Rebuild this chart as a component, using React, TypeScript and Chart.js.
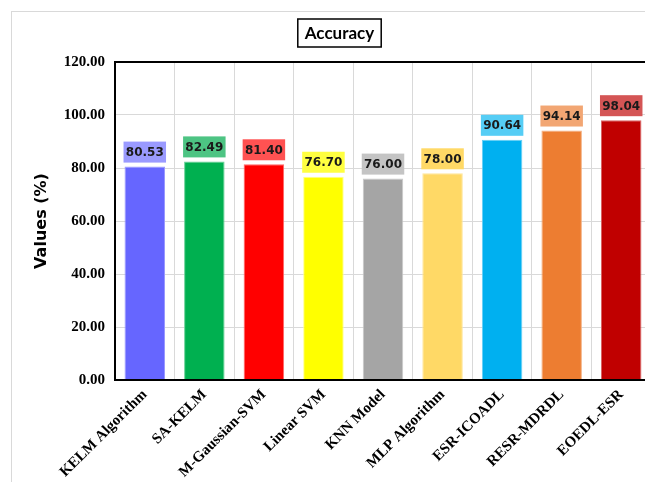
import { useEffect, useRef } from 'react';
import { Chart, registerables } from 'chart.js';
Chart.register(...registerables);

const categories = [
  'KELM Algorithm',
  'SA-KELM',
  'M-Gaussian-SVM',
  'Linear SVM',
  'KNN Model',
  'MLP Algorithm',
  'ESR-ICOADL',
  'RESR-MDRDL',
  'EOEDL-ESR',
];
const values = [80.53, 82.49, 81.4, 76.7, 76.0, 78.0, 90.64, 94.14, 98.04];
const barColors = ['#6666FF', '#00B050', '#FF0000', '#FFFF00', '#A5A5A5', '#FFD966', '#00B0F0', '#ED7D31', '#C00000'];
const labelColors = ['#9A9AFF', '#4DC483', '#FF5252', '#FFFF40', '#C4C4C4', '#FFD966', '#55CDF5', '#F2A673', '#D45555'];
const edgeColors = ['#9A9AFF', '#66D096', '#FF6666', '#FFFF88', '#C8C8C8', '#FFE699', '#66D0F6', '#F4B183', '#D86666'];
const yMin = 0;
const yMax = 120;
const yStep = 20;
const titleText = 'Accuracy';
const yTitle = 'Values (%)';

const decoPlugin = {
  id: 'deco',
  afterDatasetsDraw(chart: any) {
    const { ctx, chartArea } = chart;
    const { left, top, right, bottom } = chartArea;
    ctx.save();
    // data label boxes
    const meta = chart.getDatasetMeta(0);
    meta.data.forEach((bar: any, i: number) => {
      const { x, y, width } = bar.getProps(['x', 'y', 'width'], true);
      const h = 21;
      const gap = 4;
      ctx.fillStyle = labelColors[i];
      ctx.fillRect(x - width / 2 - 1, y - gap - h, width + 2, h);
      ctx.fillStyle = '#1a1a1a';
      ctx.font = 'bold 12px "DejaVu Sans"';
      ctx.textAlign = 'center';
      ctx.textBaseline = 'middle';
      ctx.fillText(values[i].toFixed(2), x, y - gap - h / 2 + 1);
    });
    // plot frame
    ctx.strokeStyle = '#000';
    ctx.lineWidth = 2;
    ctx.strokeRect(left, top, right - left, bottom - top);
    // title box
    ctx.font = 'bold 17px "Lato"';
    const tw = ctx.measureText(titleText).width;
    const cx = chart.width / 2 + 13;
    const cy = 33;
    const bw = tw + 14;
    const bh = 28;
    ctx.lineWidth = 1.5;
    ctx.strokeStyle = '#000';
    ctx.strokeRect(cx - bw / 2, cy - bh / 2, bw, bh);
    ctx.fillStyle = '#000';
    ctx.textAlign = 'center';
    ctx.textBaseline = 'middle';
    ctx.fillText(titleText, cx, cy + 1);
    ctx.restore();
  },
};

export default function App() {
  const ref = useRef<HTMLCanvasElement>(null);
  useEffect(() => {
    if (!ref.current) return;
    const chart = new Chart(ref.current, {
      type: 'bar',
      data: {
        labels: categories,
        datasets: [
          {
            data: values,
            backgroundColor: barColors,
            borderColor: edgeColors,
            borderWidth: 1,
            barPercentage: 0.68,
            categoryPercentage: 1,
          },
        ],
      },
      options: {
        responsive: false,
        animation: false,
        layout: { padding: { left: 12, right: 2, top: 62, bottom: 10 } },
        plugins: {
          legend: { display: false },
          tooltip: { enabled: false },
          title: { display: false },
        },
        scales: {
          x: {
            grid: { color: '#d9d9d9', offset: true, drawTicks: false },
            border: { display: false },
            ticks: {
              color: '#000',
              font: { family: '"Liberation Serif"', weight: 'bold', size: 15 },
              maxRotation: 45,
              minRotation: 45,
              padding: 6,
              autoSkip: false,
            },
            afterFit(scale: any) {
              scale.height = 100;
            },
          },
          y: {
            min: yMin,
            max: yMax,
            grid: { color: '#d9d9d9', drawTicks: false },
            border: { display: false },
            ticks: {
              stepSize: yStep,
              color: '#000',
              padding: 10,
              font: { family: '"Liberation Serif"', weight: 'bold', size: 15 },
              callback: (v: any) => Number(v).toFixed(2),
            },
            title: {
              display: true,
              text: yTitle,
              color: '#000',
              font: { family: '"DejaVu Sans"', weight: 'bold', size: 16 },
              padding: { top: 20, bottom: 0 },
            },
            afterFit(scale: any) {
              scale.width = 103;
            },
          },
        },
      },
      plugins: [decoPlugin],
    } as any);
    return () => chart.destroy();
  }, []);
  return (
    <div style={{ position: 'relative', width: 653, height: 490, margin: -8, overflow: 'hidden', background: '#fff' }}>
      <div
        style={{
          position: 'absolute',
          left: 11,
          top: 11,
          width: 700,
          height: 520,
          border: '1px solid #d9d9d9',
        }}
      />
      <canvas ref={ref} width={653} height={490} style={{ position: 'absolute', left: 0, top: 0 }} />
    </div>
  );
}
